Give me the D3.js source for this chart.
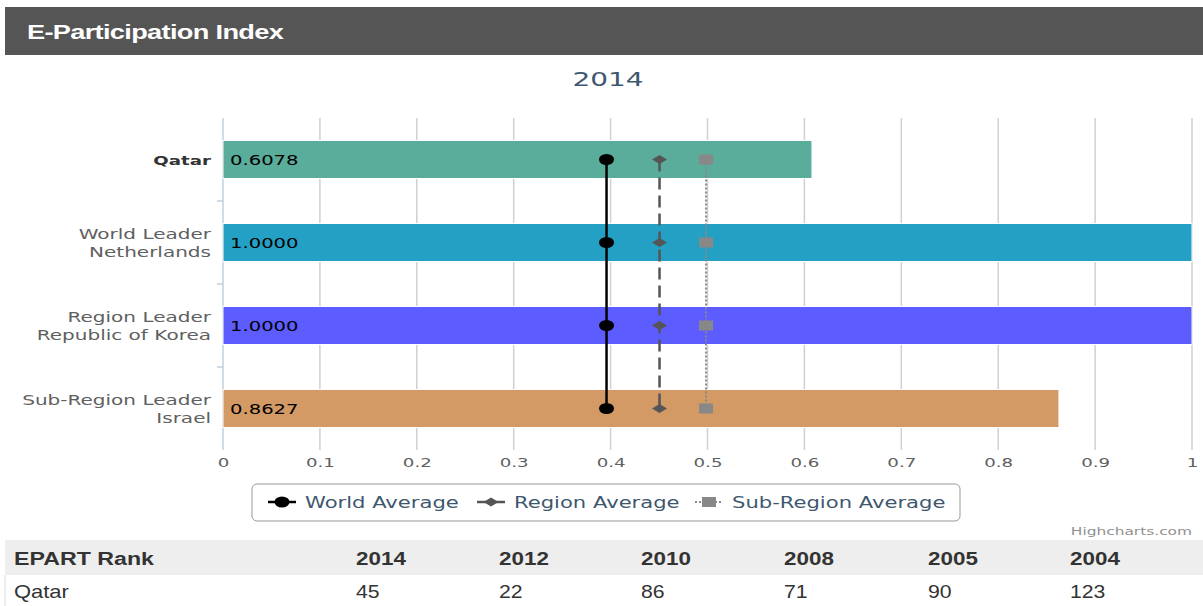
<!DOCTYPE html>
<html>
<head>
<meta charset="utf-8">
<script src="https://cdn.jsdelivr.net/npm/d3@7"></script>
<style>
  body { margin: 0; background: #fff; }
  svg { display: block; }
</style>
</head>
<body>
<div id="chart"></div>
<script>
// data
const categories = ['Qatar', 'World Leader|Netherlands', 'Region Leader|Republic of Korea', 'Sub-Region Leader|Israel'];
const barValues = [0.6078, 1.0, 1.0, 0.8627];
const barColors = ['#5aac9b', '#24a0c5', '#5c5cff', '#d39a66'];
const worldAverage = [0.3958, 0.3958, 0.3958, 0.3958];
const regionAverage = [0.4505, 0.4505, 0.4505, 0.4505];
const subRegionAverage = [0.4985, 0.4985, 0.4985, 0.4985];
const xTicks = [0, 0.1, 0.2, 0.3, 0.4, 0.5, 0.6, 0.7, 0.8, 0.9, 1];
const rankYears = ['2014', '2012', '2010', '2008', '2005', '2004'];
const rankQatar = ['45', '22', '86', '71', '90', '123'];

const W = 1203, H = 606;
const SX = 1.4; // the screenshot is stretched sideways, text too
const svg = d3.select('#chart').append('svg').attr('width', W).attr('height', H);

// text that is stretched horizontally around its anchor point
function wideText(parent, x, y, str, anchor, sx) {
  return parent.append('g').attr('transform', `translate(${x},${y}) scale(${sx},1)`)
    .append('text').attr('text-anchor', anchor || 'start').text(str);
}

// header bar
svg.append('rect').attr('x', 5).attr('y', 7).attr('width', W - 5).attr('height', 48).attr('fill', '#555555');
wideText(svg, 27, 39, 'E-Participation Index', 'start', 1.36)
  .attr('fill', '#fff').attr('font-family', 'Liberation Sans, Arial, sans-serif')
  .attr('font-weight', 'bold').attr('font-size', 20).attr('letter-spacing', '-0.5px');

// chart title
wideText(svg, 608, 86, '2014', 'middle', SX)
  .attr('fill', '#3e576f').attr('font-family', 'DejaVu Sans, sans-serif').attr('font-size', 20);

const plot = { left: 223, right: 1192, top: 118, bottom: 450 };
const x = d3.scaleLinear().domain([0, 1]).range([plot.left, plot.right]);
const y = d3.scaleBand().domain(categories).range([plot.top, plot.bottom]);

// grid lines
svg.append('g').selectAll('line').data(xTicks.slice(1)).join('line')
  .attr('x1', d => x(d)).attr('x2', d => x(d))
  .attr('y1', plot.top).attr('y2', plot.bottom)
  .attr('stroke', '#d0d0d0').attr('stroke-width', 1.5);

// left axis line + ticks
svg.append('line').attr('x1', plot.left).attr('x2', plot.left).attr('y1', plot.top).attr('y2', plot.bottom)
  .attr('stroke', '#c0d0e0').attr('stroke-width', 1.5);
svg.append('g').selectAll('line').data(categories.slice(1)).join('line')
  .attr('x1', plot.left - 6).attr('x2', plot.left)
  .attr('y1', d => y(d)).attr('y2', d => y(d))
  .attr('stroke', '#c0d0e0').attr('stroke-width', 1.5);

// x axis labels
const xAxis = d3.axisBottom(x).tickValues(xTicks).tickSize(0).tickPadding(8)
  .tickFormat(d => d === 0 ? '0' : d === 1 ? '1' : d3.format('.1f')(d));
const gx = svg.append('g').attr('transform', `translate(0,${plot.bottom})`).call(xAxis);
gx.select('.domain').remove();
gx.selectAll('text').attr('fill', '#606060').attr('font-family', 'DejaVu Sans, sans-serif')
  .attr('font-size', 13).attr('transform', `scale(${SX},1)`);

// bars
const barH = 38;
svg.append('g').selectAll('rect').data(categories).join('rect')
  .attr('x', x(0))
  .attr('y', d => y(d) + y.bandwidth() / 2 - barH / 2)
  .attr('width', (d, i) => x(barValues[i]) - x(0))
  .attr('height', barH)
  .attr('fill', (d, i) => barColors[i])
  .attr('stroke', '#fff').attr('stroke-width', 1);

// bar value labels
categories.forEach((c, i) => {
  wideText(svg, x(0) + 7, y(c) + y.bandwidth() / 2 + 5, barValues[i].toFixed(4), 'start', SX)
    .attr('fill', '#000').attr('font-family', 'DejaVu Sans, sans-serif').attr('font-size', 14);
});

// category labels
categories.forEach((c, i) => {
  const lines = c.split('|');
  const cy = y(c) + y.bandwidth() / 2;
  lines.forEach((l, j) => {
    wideText(svg, plot.left - 12, cy + 5 + (j - (lines.length - 1) / 2) * 18, l, 'end', i === 0 ? SX : 1.43)
      .attr('font-family', 'DejaVu Sans, sans-serif').attr('font-size', i === 0 ? 13 : 14)
      .attr('fill', i === 0 ? '#333' : '#606060')
      .attr('font-weight', i === 0 ? 'bold' : 'normal');
  });
});

// average lines
const series = [
  { name: 'World Average', values: worldAverage, color: '#000', dash: null, width: 2.5, marker: 'circle' },
  { name: 'Region Average', values: regionAverage, color: '#555', dash: '12,6', width: 2.5, marker: 'diamond' },
  { name: 'Sub-Region Average', values: subRegionAverage, color: '#888', dash: '2,2', width: 2, marker: 'square' }
];
const line = d3.line().x(d => x(d.v)).y(d => y(d.c) + y.bandwidth() / 2);

function drawMarker(g, type, cx, cy, color) {
  if (type === 'circle') {
    g.append('ellipse').attr('cx', cx).attr('cy', cy).attr('rx', 7.5).attr('ry', 5.5).attr('fill', color);
  } else if (type === 'diamond') {
    g.append('path').attr('d', `M${cx - 7.5},${cy}L${cx},${cy - 4.5}L${cx + 7.5},${cy}L${cx},${cy + 4.5}Z`).attr('fill', color);
  } else {
    g.append('rect').attr('x', cx - 7).attr('y', cy - 5).attr('width', 14).attr('height', 10).attr('fill', color);
  }
}

series.forEach(s => {
  const pts = categories.map((c, i) => ({ c, v: s.values[i] }));
  const g = svg.append('g');
  g.append('path').attr('d', line(pts)).attr('fill', 'none')
    .attr('stroke', s.color).attr('stroke-width', s.width)
    .attr('stroke-dasharray', s.dash);
  pts.forEach(p => drawMarker(g, s.marker, x(p.v), y(p.c) + y.bandwidth() / 2, s.color));
});

// legend
const lg = svg.append('g');
lg.append('rect').attr('x', 252).attr('y', 484).attr('width', 708).attr('height', 37).attr('rx', 5)
  .attr('fill', '#fff').attr('stroke', '#999').attr('stroke-width', 1);
const legendX = [268, 477, 695];
series.forEach((s, i) => {
  const lx = legendX[i], ly = 502;
  lg.append('line').attr('x1', lx).attr('x2', lx + 28).attr('y1', ly).attr('y2', ly)
    .attr('stroke', s.color).attr('stroke-width', s.width).attr('stroke-dasharray', s.dash);
  drawMarker(lg, s.marker, lx + 14, ly, s.color);
  wideText(lg, lx + 37, ly + 6, s.name, 'start', 1.32)
    .attr('fill', '#3e576f').attr('font-family', 'DejaVu Sans, sans-serif').attr('font-size', 16);
});

// credits
wideText(svg, 1192, 535, 'Highcharts.com', 'end', SX)
  .attr('fill', '#909090').attr('font-family', 'DejaVu Sans, sans-serif').attr('font-size', 11);

// rank table
svg.append('rect').attr('x', 5).attr('y', 540).attr('width', W - 5).attr('height', 35).attr('fill', '#eeeeee');
svg.append('line').attr('x1', 5).attr('x2', 5).attr('y1', 575).attr('y2', 606).attr('stroke', '#ddd');
const tableFont = 'Liberation Sans Narrow, Liberation Sans, sans-serif';
wideText(svg, 14, 565, 'EPART Rank', 'start', 1.22)
  .attr('font-family', tableFont).attr('font-weight', 'bold').attr('font-size', 19).attr('fill', '#333');
wideText(svg, 14, 598, 'Qatar', 'start', 1.22)
  .attr('font-family', tableFont).attr('font-size', 18).attr('fill', '#333');
const colX = [356, 499, 641, 784, 928, 1070];
rankYears.forEach((yr, i) => {
  wideText(svg, colX[i], 565, yr, 'start', 1.18)
    .attr('font-family', tableFont).attr('font-weight', 'bold').attr('font-size', 19).attr('fill', '#333');
  wideText(svg, colX[i], 598, rankQatar[i], 'start', 1.18)
    .attr('font-family', tableFont).attr('font-size', 18).attr('fill', '#333');
});
</script>
</body>
</html>
